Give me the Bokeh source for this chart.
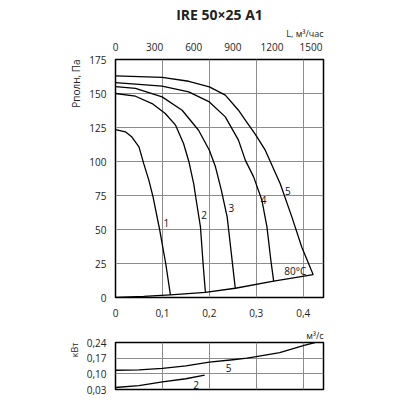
from bokeh.plotting import figure
from bokeh.models import Range1d, LinearAxis, FixedTicker, CustomJSTickFormatter, Label, Title
from bokeh.layouts import column
from bokeh.embed import file_html
from bokeh.resources import INLINE

# ---- data (Q in m3/s, P in Pa) ----
q1 = [0, 0.021, 0.035, 0.05, 0.06, 0.071, 0.08, 0.094, 0.107, 0.117]
p1 = [123.5, 121.8, 118, 110.8, 98.6, 86.3, 74, 50, 25, 2]

q2 = [0, 0.0426, 0.078, 0.106, 0.128, 0.145, 0.156, 0.1667, 0.172, 0.181, 0.1866, 0.1915]
p2 = [150, 148, 142.6, 135.3, 126.7, 113.2, 100.4, 83.6, 71.5, 52, 25, 4]

q3 = [0, 0.0426, 0.0993, 0.142, 0.177, 0.2, 0.213, 0.2255, 0.238, 0.246, 0.2553]
p3 = [155, 153.7, 147.5, 137.7, 123, 108.3, 96.1, 79, 59.1, 34.8, 6.5]

q4 = [0, 0.0993, 0.156, 0.2, 0.234, 0.262, 0.2766, 0.2943, 0.312, 0.3227, 0.331, 0.337]
p4 = [158, 155.4, 151.2, 143.8, 132.8, 115.7, 101, 88.7, 71.5, 51.9, 27.4, 12]

q5 = [0, 0.0993, 0.156, 0.2, 0.234, 0.262, 0.2766, 0.298, 0.3191, 0.351, 0.3759, 0.397, 0.4213]
p5 = [163, 161.8, 159, 154.9, 148.8, 137.7, 130.4, 120, 108.3, 83.6, 59.1, 37, 16.8]

qb = [0, 0.06, 0.117, 0.1915, 0.2553, 0.337, 0.4213]
pb = [0, 0.8, 2, 3.8, 6.8, 12, 16.8]

# power (kW)
w5_q = [0, 0.05, 0.1, 0.15, 0.2, 0.25, 0.28, 0.3, 0.35, 0.4, 0.425]
w5 = [0.116, 0.118, 0.124, 0.136, 0.152, 0.163, 0.17, 0.177, 0.195, 0.226, 0.24]
w2_q = [0, 0.05, 0.1, 0.15, 0.19]
w2 = [0.039, 0.047, 0.064, 0.078, 0.094]

x_ticks = [0, 0.1, 0.2, 0.3, 0.4]
y_ticks = [0, 25, 50, 75, 100, 125, 150, 175]
l_ticks = [0, 300, 600, 900, 1200, 1500]
kw_ticks = [0.03, 0.10, 0.17, 0.24]

XMAX = 0.4432
FONT = "Open Sans"
GRID = "#8c8c8c"
TXT = "#222222"


def style_axis(ax, size="10px"):
    ax.axis_line_color = None
    ax.major_tick_line_color = None
    ax.minor_tick_line_color = None
    ax.major_label_text_font = FONT
    ax.major_label_text_font_size = size
    ax.major_label_text_color = TXT


def title(text, size, align, standoff, bold=False):
    return Title(text=text, align=align, text_font=FONT, text_font_size=size,
                 text_font_style="bold" if bold else "normal", text_color=TXT,
                 standoff=standoff)


p = figure(width=392, height=321, x_range=Range1d(0, XMAX), y_range=Range1d(0, 175),
           output_backend="svg", toolbar_location=None, title=None,
           min_border_left=115, min_border_right=69, min_border_top=59, min_border_bottom=24)
p.outline_line_color = "black"
p.outline_line_width = 1.5

p.xaxis.ticker = FixedTicker(ticks=x_ticks)
p.xaxis.formatter = CustomJSTickFormatter(code="return tick == 0 ? '0' : tick.toFixed(1).replace('.', ',');")
p.xaxis.major_label_standoff = 5
p.yaxis.ticker = FixedTicker(ticks=y_ticks)
p.yaxis.major_label_standoff = 3
style_axis(p.xaxis[0])
style_axis(p.yaxis[0])
p.xgrid.ticker = FixedTicker(ticks=x_ticks[1:])
p.ygrid.ticker = FixedTicker(ticks=y_ticks[1:-1])
for g in (p.xgrid[0], p.ygrid[0]):
    g.grid_line_color = GRID
    g.grid_line_width = 1

p.extra_x_ranges = {"L": Range1d(0, XMAX * 3600)}
top = LinearAxis(x_range_name="L", ticker=FixedTicker(ticks=l_ticks))
style_axis(top)
top.major_label_standoff = 3
p.add_layout(top, "above")

p.add_layout(title("L, м³/час", "9px", "right", 0), "above")
p.add_layout(title("IRE 50×25 A1", "14px", "center", 1, bold=True), "above")
p.add_layout(title("Pполн, Па", "10px", "right", 8), "left")

for qq, pp in ((q1, p1), (q2, p2), (q3, p3), (q4, p4), (q5, p5), (qb, pb)):
    p.line(qq, pp, line_color="black", line_width=1.3, line_join="round")

curve_labels = [("1", 0.1085, 54.6), ("2", 0.189, 60.5), ("3", 0.247, 65.6),
                ("4", 0.3156, 72), ("5", 0.367, 78.4), ("80°C", 0.383, 19.6)]
for t, x, y in curve_labels:
    p.add_layout(Label(x=x, y=y, text=t, text_align="center", text_baseline="middle",
                       text_font=FONT, text_font_size="10px", text_color="#111111"))

# ---- power chart ----
k = figure(width=392, height=76, x_range=Range1d(0, XMAX), y_range=Range1d(0.03, 0.24),
           output_backend="svg", toolbar_location=None, x_axis_location=None, title=None,
           min_border_left=115, min_border_right=69, min_border_top=21, min_border_bottom=8)
k.outline_line_color = "black"
k.outline_line_width = 1.5
k.yaxis.ticker = FixedTicker(ticks=kw_ticks)
k.yaxis.formatter = CustomJSTickFormatter(code="return tick.toFixed(2).replace('.', ',');")
k.yaxis.major_label_standoff = 3
style_axis(k.yaxis[0])
k.xgrid.ticker = FixedTicker(ticks=x_ticks[1:])
k.ygrid.ticker = FixedTicker(ticks=[0.10, 0.17])
for g in (k.xgrid[0], k.ygrid[0]):
    g.grid_line_color = GRID
    g.grid_line_width = 1
k.line(w5_q, w5, line_color="black", line_width=1.3, line_join="round")
k.line(w2_q, w2, line_color="black", line_width=1.3, line_join="round")
k.add_layout(Label(x=0.241, y=0.124, text="5", text_align="center", text_baseline="middle",
                   text_font=FONT, text_font_size="10px", text_color="#111111"))
k.add_layout(Label(x=0.172, y=0.052, text="2", text_align="center", text_baseline="middle",
                   text_font=FONT, text_font_size="10px", text_color="#111111"))
k.add_layout(title("м³/с", "9px", "right", 1), "above")
k.add_layout(title("кВт", "9px", "right", 6), "left")

layout = column(p, k)
open("out.html", "w").write(file_html(layout, INLINE))
